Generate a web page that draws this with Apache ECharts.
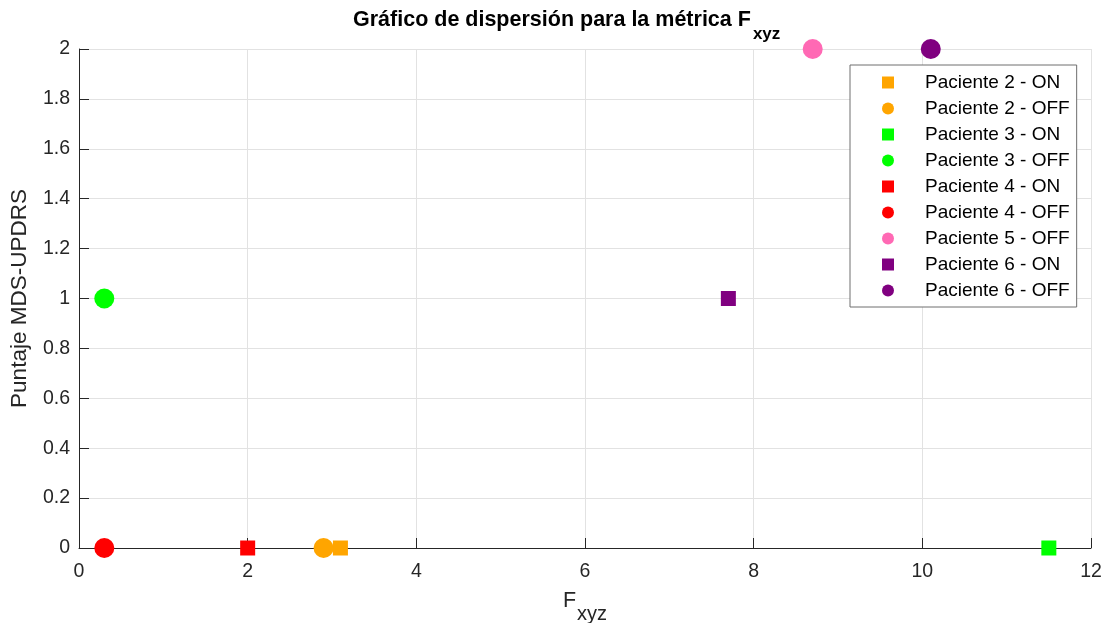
<!DOCTYPE html>
<html>
<head>
<meta charset="utf-8">
<title>Gráfico de dispersión</title>
<script src="https://cdn.jsdelivr.net/npm/echarts@6/dist/echarts.min.js"></script>
<style>
  html, body { margin: 0; padding: 0; background: #ffffff; }
  #chart { width: 1107px; height: 623px; }
</style>
</head>
<body>
<div id="chart"></div>
<script>
// One point per patient/state: F_xyz metric vs MDS-UPDRS score
const seriesNames = [
  'Paciente 2 - ON', 'Paciente 2 - OFF',
  'Paciente 3 - ON', 'Paciente 3 - OFF',
  'Paciente 4 - ON', 'Paciente 4 - OFF',
  'Paciente 5 - OFF',
  'Paciente 6 - ON', 'Paciente 6 - OFF'
];
const fxyzValues  = [3.1, 2.9, 11.5, 0.3, 2.0, 0.3, 8.7, 7.7, 10.1];
const updrsValues = [0,   0,   0,    1,   0,   0,   2,   1,   2];

// Marker styling: squares for ON, circles for OFF
const markerShapes = ['rect', 'circle', 'rect', 'circle', 'rect', 'circle', 'circle', 'rect', 'circle'];
const markerColors = ['#FFA500', '#FFA500', '#00FF00', '#00FF00', '#FF0000', '#FF0000', '#FF69B4', '#800080', '#800080'];

const FONT = '"Liberation Sans", Arial, Helvetica, sans-serif';
const INK = '#262626';

const chart = echarts.init(document.getElementById('chart'), null, { renderer: 'canvas' });

const series = seriesNames.map((name, i) => ({
  name: name,
  type: 'scatter',
  symbol: markerShapes[i],
  symbolSize: markerShapes[i] === 'rect' ? 15 : 20,
  itemStyle: { color: markerColors[i], opacity: 1 },
  clip: false,
  data: [[fxyzValues[i], updrsValues[i]]]
}));

chart.setOption({
  animation: false,
  backgroundColor: '#ffffff',
  title: {
    left: 353,
    top: 9,
    padding: 0,
    text: '{t|Gráfico de dispersión para la métrica F}{s|xyz}',
    textStyle: {
      rich: {
        t: { fontFamily: FONT, fontSize: 21.5, fontWeight: 'bold', color: '#000000', lineHeight: 24, verticalAlign: 'top' },
        s: { fontFamily: FONT, fontSize: 17, fontWeight: 'bold', color: '#000000', lineHeight: 18, padding: [17, 0, 0, 2], verticalAlign: 'top' }
      }
    }
  },
  legend: {
    orient: 'vertical',
    left: 850,
    top: 65,
    padding: [8, 7, 7, 32],
    itemWidth: 12,
    itemHeight: 12,
    itemGap: 7,
    backgroundColor: '#ffffff',
    borderColor: '#6e6e6e',
    borderWidth: 1,
    borderRadius: 0,
    data: seriesNames,
    textStyle: { fontFamily: FONT, fontSize: 19, color: '#000000', lineHeight: 19, padding: [0, 0, 0, 26] }
  },
  grid: { left: 79, right: 16, top: 49, bottom: 75, containLabel: false, outerBoundsMode: 'none' },
  xAxis: {
    type: 'value',
    min: 0, max: 12, interval: 2,
    name: '{f|F}{s|xyz}',
    nameLocation: 'middle',
    nameGap: 42,
    nameTextStyle: {
      rich: {
        f: { fontFamily: FONT, fontSize: 21.5, color: INK, lineHeight: 24, verticalAlign: 'top' },
        s: { fontFamily: FONT, fontSize: 20, color: INK, lineHeight: 20, padding: [14, 0, 0, 1], verticalAlign: 'top' }
      }
    },
    axisLine: { show: true, onZero: false, lineStyle: { color: INK, width: 1 } },
    axisTick: { show: true, inside: true, length: 10, lineStyle: { color: INK, width: 1 } },
    axisLabel: { fontFamily: FONT, fontSize: 19.5, color: INK, margin: 14 },
    splitLine: { show: true, lineStyle: { color: '#e2e2e2', width: 1 } }
  },
  yAxis: {
    type: 'value',
    min: 0, max: 2, interval: 0.2,
    name: 'Puntaje MDS-UPDRS',
    nameLocation: 'middle',
    nameGap: 46,
    nameTextStyle: { fontFamily: FONT, fontSize: 22.5, color: INK, lineHeight: 24 },
    axisLine: { show: true, onZero: false, lineStyle: { color: INK, width: 1 } },
    axisTick: { show: true, inside: true, length: 10, lineStyle: { color: INK, width: 1 } },
    axisLabel: { fontFamily: FONT, fontSize: 19.5, color: INK, margin: 9 },
    splitLine: { show: true, lineStyle: { color: '#e2e2e2', width: 1 } }
  },
  series: series
});
</script>
</body>
</html>
